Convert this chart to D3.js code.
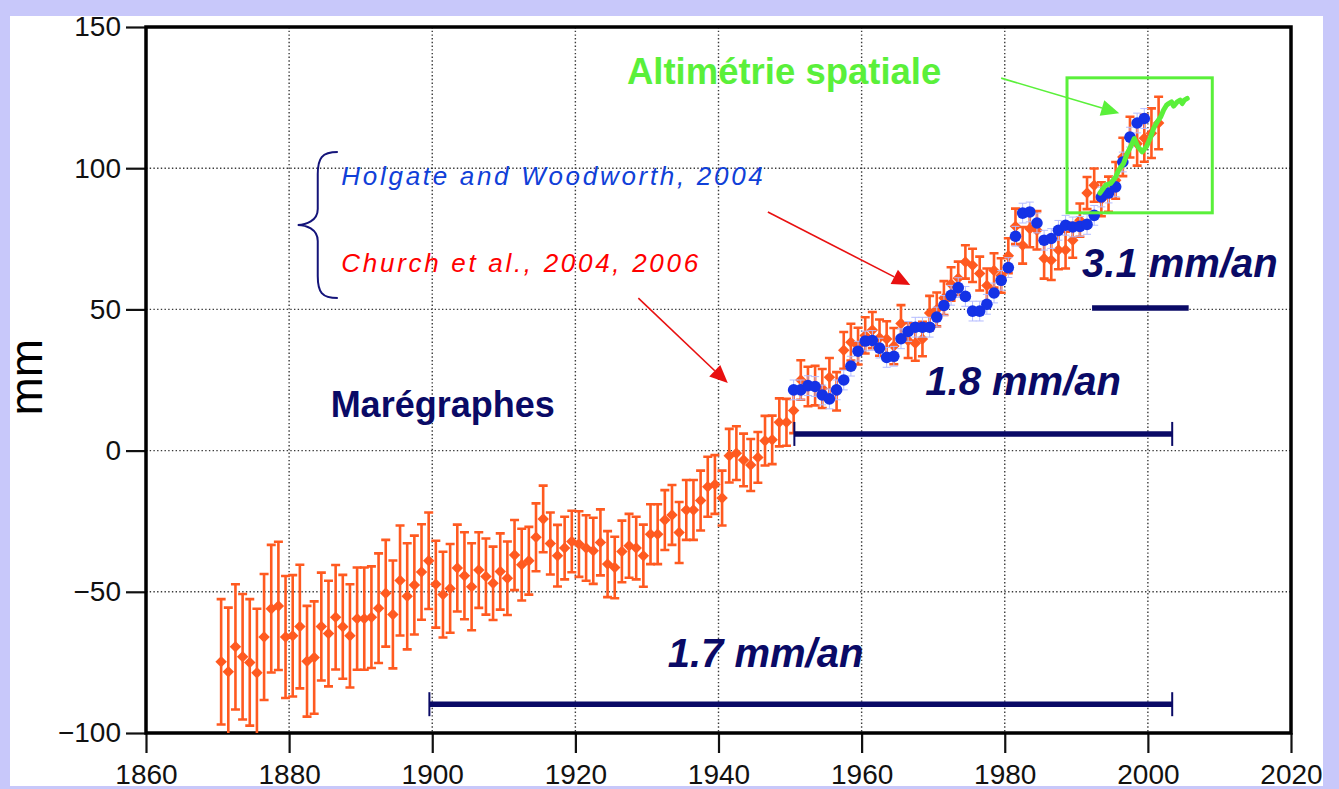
<!DOCTYPE html>
<html>
<head>
<meta charset="utf-8">
<script src="https://cdn.jsdelivr.net/npm/d3@7"></script>
<style>
  body { margin: 0; background: #c8c8fa; }
  svg { display: block; font-family: "Liberation Sans", Arial, Helvetica, sans-serif; }
</style>
</head>
<body>
<svg id="chart" width="1339" height="789"></svg>
<script>
// data --------------------------------------------------------------------------------------------
// Church et al. (tide gauges), annual means, mm
const churchYears = d3.range(1870, 2002).map(y => y + 0.5);
const churchValues = [
  -74.8, -78.3, -69.5, -73, -75, -78.7, -66, -56, -55, -66,
  -65.6, -62.3, -74.6, -73.3, -62.3, -64.8, -59, -62.4, -65.6, -59.5,
  -59.5, -59, -55.8, -50.5, -58, -46, -51.6, -47.6, -43, -39,
  -47.3, -51, -48.8, -41.6, -44.3, -48.2, -42.3, -44.6, -47, -42.8,
  -45.2, -37, -40.4, -39, -30.7, -24.2, -32.9, -37.2, -34.5, -32.2,
  -33.1, -34.5, -35.5, -32.5, -40.2, -41.4, -35.7, -33.7, -34.5, -37.2,
  -29.6, -29.6, -24.6, -22.8, -29, -21, -21, -17.7, -12.8, -12,
  -16.8, -1.8, -0.9, -3.3, -5.1, -2.4, 3.5, 3.8, 10, 10,
  14.2, 25, 22.7, 23, 22, 26, 21, 35.5, 38.4, 37,
  40.8, 42.7, 40, 39.5, 37, 45, 39, 38, 39.5, 48.7,
  50, 54, 59, 61, 66.8, 65.6, 62.7, 58.5, 63.8, 62,
  69, 79.4, 72.7, 78.6, 78, 68, 67.4, 71, 71, 74.5,
  81.6, 91.2, 94, 89, 90.8, 95.7, 104, 111, 108.7, 110.6,
  112.4, 116
];
const churchErrors = [
  22.2, 22.7, 22.2, 22.2, 22.4, 22.7, 22.3, 22.6, 22.7, 21.6,
  21.5, 21.9, 19.6, 19.9, 19.1, 18.7, 18.5, 18.4, 18.3, 18.1,
  18.1, 18, 19.4, 18.9, 19.1, 19.5, 18.8, 17.5, 16.9, 17.1,
  15.4, 15.2, 15.7, 15.4, 15.4, 15.4, 13.4, 13.5, 13, 13.5,
  13, 12.4, 12.7, 12, 12, 11.8, 11, 10.9, 11.1, 10.9,
  11.6, 11.6, 11.7, 11.7, 11.7, 10.9, 10.9, 11.3, 11.1, 11,
  10.6, 10.6, 10.6, 10.6, 10.8, 10.6, 10.6, 10.6, 10.6, 10.4,
  9.7, 9.5, 9.5, 9.3, 9.2, 9, 8.8, 8.6, 8.5, 8.3,
  8, 7, 7, 7, 6.9, 6.8, 6.8, 6.5, 6.5, 6.5,
  6.4, 6.4, 6.4, 6.3, 6.4, 6.5, 6.2, 6.2, 6.1, 6.1,
  6, 6, 5.9, 5.9, 5.9, 5.9, 6, 6, 6.1, 6.1,
  6.2, 6.3, 6.5, 6.6, 6.8, 7.1, 7, 6.8, 6.5, 6.2,
  5.9, 5.7, 5.9, 6, 6.2, 6.5, 6.8, 7.2, 7.8, 8.3,
  8.8, 9.3
];

// Holgate and Woodworth (2004)
const holgateYears = d3.range(1950, 2000).map(y => y + 0.5);
const holgateValues = [
  21.5, 21.5, 23, 22.7, 19.7, 18.3, 21.5, 25, 29.9, 35.2,
  38.8, 39, 36.3, 33, 33.4, 39.6, 42.2, 43.7, 43.7, 43.7,
  47.3, 51.4, 55, 57.7, 54.6, 49.4, 49.4, 51.8, 55.8, 60.3,
  64.8, 75.9, 84.1, 84.5, 80.6, 74.5, 75.1, 78, 79.8, 79.2,
  79.4, 80.1, 83.3, 89.8, 91.2, 93.4, 102.2, 111, 116, 117.6
];
const holgateError = 3.5;

// satellite altimetry
const altiTimes = [
  1993.3, 1994.1, 1994.8, 1995.5, 1995.9, 1996.6, 1997.1, 1997.7, 1998.1, 1998.6,
  1999.2, 1999.8, 2000.4, 2000.8, 2001.3, 2001.8, 2002.2, 2002.6, 2002.9, 2003.3,
  2003.6, 2004.1, 2004.5, 2004.8, 2005.1, 2005.5
];
const altiValues = [
  91.2, 94.0, 94.6, 96.9, 99.3, 101.7, 105.2, 108.2, 110.5, 107.6,
  105.8, 107.6, 111.1, 114.1, 116.4, 118.2, 120.6, 122.3, 122.9, 123.5,
  122, 123.5, 124.1, 122.9, 124.1, 124.7
];

// trend segments
const trendLabels = ['1.7 mm/an', '1.8 mm/an', '3.1 mm/an'];
const trendStart = [1899.6, 1950.6, 1992.2];
const trendEnd = [2003.4, 2003.4, 2005.7];
const trendLevel = [-89.8, 5.9, 50.5];
const trendTextAt = [[1932.9, -76.6], [1968.9, 19.7], [1990.8, 61.6]];

const xTicks = [1860, 1880, 1900, 1920, 1940, 1960, 1980, 2000, 2020];
const yTicks = [-100, -50, 0, 50, 100, 150];

// chart -------------------------------------------------------------------------------------------
const svg = d3.select('#chart');
const margin = {top: 27, right: 48, bottom: 56, left: 146};
const width = 1339, height = 789;

svg.append('rect')
  .attr('x', 10).attr('y', 16)
  .attr('width', 1313).attr('height', 770)
  .attr('fill', '#fff');

const x = d3.scaleLinear().domain([1860, 2020]).range([margin.left, width - margin.right]);
const y = d3.scaleLinear().domain([-100, 150]).range([height - margin.bottom, margin.top]);

const ORANGE = '#ff5a20', BLUE = '#1432e6', GREEN = '#5af03a', NAVY = '#0a0a66';

svg.append('clipPath').attr('id', 'plot-clip')
  .append('rect')
  .attr('x', x(1860)).attr('y', y(150))
  .attr('width', x(2020) - x(1860)).attr('height', y(-100) - y(150));

// dotted grid
const grid = svg.append('g')
  .attr('stroke', '#3a3a3a')
  .attr('stroke-width', 1.4)
  .attr('stroke-dasharray', '1.4,2.3');
grid.selectAll('.gx')
  .data(xTicks.slice(1, -1))
  .join('line')
  .attr('x1', d => x(d)).attr('x2', d => x(d))
  .attr('y1', y(150)).attr('y2', y(-100));
grid.selectAll('.gy')
  .data(yTicks.slice(1, -1))
  .join('line')
  .attr('x1', x(1860)).attr('x2', x(2020))
  .attr('y1', d => y(d)).attr('y2', d => y(d));

// axes
const xAxis = svg.append('g')
  .attr('transform', `translate(0,${y(-100)})`)
  .call(d3.axisBottom(x).tickValues(xTicks).tickSize(20).tickPadding(11).tickFormat(d3.format('d')));
const yAxis = svg.append('g')
  .attr('transform', `translate(${x(1860)},0)`)
  .call(d3.axisLeft(y).tickValues(yTicks).tickSize(20).tickPadding(5)
    .tickFormat(d => d < 0 ? '\u2212' + Math.abs(d) : d));
[xAxis, yAxis].forEach(a => {
  a.select('.domain').remove();
  a.selectAll('line').attr('stroke', '#111').attr('stroke-width', 2.2);
  a.selectAll('text')
    .attr('fill', '#111')
    .style('font-size', '28px')
    .style('font-family', '"Liberation Sans", Arial, sans-serif');
});

// y label (kept inside the page edge)
svg.append('text')
  .attr('transform', `translate(42,${y(26)}) rotate(-90)`)
  .attr('text-anchor', 'middle')
  .style('font-size', '46px')
  .attr('fill', '#000')
  .text('mm');

// frame
svg.append('rect')
  .attr('x', x(1860)).attr('y', y(150))
  .attr('width', x(2020) - x(1860)).attr('height', y(-100) - y(150))
  .attr('fill', 'none')
  .attr('stroke', '#000')
  .attr('stroke-width', 3.5);

const plot = svg.append('g').attr('clip-path', 'url(#plot-clip)');

// Church et al. error bars + diamonds
const church = churchYears.map((t, i) => ({t, v: churchValues[i], e: churchErrors[i]}));
plot.append('g').attr('stroke', ORANGE).attr('stroke-width', 2.6)
  .selectAll('path')
  .data(church)
  .join('path')
  .attr('d', d => {
    const cx = x(d.t), y0 = y(d.v - d.e), y1 = y(d.v + d.e);
    return `M${cx},${y0}V${y1}M${cx - 4.5},${y0}H${cx + 4.5}M${cx - 4.5},${y1}H${cx + 4.5}`;
  });
const diamond = d3.symbol(d3.symbolSquare, 66);
plot.append('g').selectAll('path')
  .data(church)
  .join('path')
  .attr('d', diamond)
  .attr('transform', d => `translate(${x(d.t)},${y(d.v)}) rotate(45)`)
  .attr('fill', ORANGE);

// Holgate and Woodworth
const holgate = holgateYears.map((t, i) => ({t, v: holgateValues[i]}));
plot.append('g').attr('stroke', '#b4bcff').attr('stroke-width', 1)
  .selectAll('path')
  .data(holgate)
  .join('path')
  .attr('d', d => {
    const cx = x(d.t), y0 = y(d.v - holgateError), y1 = y(d.v + holgateError);
    return `M${cx},${y0}V${y1}M${cx - 4},${y0}H${cx + 4}M${cx - 4},${y1}H${cx + 4}`;
  });
plot.append('g').selectAll('circle')
  .data(holgate)
  .join('circle')
  .attr('cx', d => x(d.t))
  .attr('cy', d => y(d.v))
  .attr('r', 5.8)
  .attr('fill', BLUE);

// satellite altimetry
const alti = altiTimes.map((t, i) => ({t, v: altiValues[i]}));
plot.append('path')
  .datum(alti)
  .attr('fill', 'none')
  .attr('stroke', GREEN)
  .attr('stroke-width', 5)
  .attr('stroke-linejoin', 'round')
  .attr('stroke-linecap', 'round')
  .attr('d', d3.line().x(d => x(d.t)).y(d => y(d.v)));

// green box
svg.append('rect')
  .attr('x', x(1988.7)).attr('y', y(132))
  .attr('width', x(2009) - x(1988.7)).attr('height', y(84.2) - y(132))
  .attr('fill', 'none')
  .attr('stroke', GREEN)
  .attr('stroke-width', 3);

// trend segments
trendLabels.forEach((label, i) => {
  const g = svg.append('g').attr('stroke', NAVY);
  const ly = y(trendLevel[i]);
  g.append('line')
    .attr('x1', x(trendStart[i])).attr('x2', x(trendEnd[i]))
    .attr('y1', ly).attr('y2', ly)
    .attr('stroke-width', 5.5);
  if (i < 2) {
    [trendStart[i], trendEnd[i]].forEach(t => {
      g.append('line')
        .attr('x1', x(t)).attr('x2', x(t))
        .attr('y1', ly - 12).attr('y2', ly + 12)
        .attr('stroke-width', 2);
    });
  }
  svg.append('text')
    .attr('x', x(trendTextAt[i][0]))
    .attr('y', y(trendTextAt[i][1]))
    .attr('fill', NAVY)
    .style('font-size', '40px')
    .style('font-weight', 'bold')
    .style('font-style', 'italic')
    .text(label);
});

// labels
svg.append('text')
  .attr('x', x(1885.8)).attr('y', y(11.9))
  .attr('fill', NAVY)
  .style('font-size', '36px')
  .style('font-weight', 'bold')
  .text('Marégraphes');

svg.append('text')
  .attr('x', x(1927.2)).attr('y', y(129.8))
  .attr('fill', GREEN)
  .style('font-size', '36.5px')
  .style('font-weight', 'bold')
  .text('Altimétrie spatiale');

svg.append('text')
  .attr('x', x(1887.3)).attr('y', y(94.1))
  .attr('fill', '#1040d8')
  .style('font-size', '26px')
  .style('font-style', 'italic')
  .style('letter-spacing', '2.7px')
  .text('Holgate and Woodworth, 2004');

svg.append('text')
  .attr('x', x(1887.3)).attr('y', y(63.3))
  .attr('fill', '#ff0000')
  .style('font-size', '26px')
  .style('font-style', 'italic')
  .style('letter-spacing', '2.7px')
  .text('Church et al., 2004, 2006');

// brace
const bx0 = x(1886.8), bxs = x(1884.0), bxt = x(1881.2);
const byt = y(105.7), bym = y(79.9), byb = y(54.0);
svg.append('path')
  .attr('d', `M${bx0},${byt} C${bxs + 4},${byt} ${bxs},${byt + 6} ${bxs},${byt + 22}
    L${bxs},${bym - 16} C${bxs},${bym - 4} ${bxt + 8},${bym} ${bxt},${bym}
    C${bxt + 8},${bym} ${bxs},${bym + 4} ${bxs},${bym + 16}
    L${bxs},${byb - 22} C${bxs},${byb - 6} ${bxs + 4},${byb} ${bx0},${byb}`)
  .attr('fill', 'none')
  .attr('stroke', '#14147a')
  .attr('stroke-width', 2);

// arrows: [from year, from value, to year, to value, colour]
const arrows = [
  [1946.9, 84.5, 1966.8, 58.6, '#e81010'],
  [1928.8, 54.0, 1941.3, 23.9, '#e81010'],
  [1979.5, 131.9, 1996.0, 119.5, GREEN]
];
arrows.forEach(([t0, v0, t1, v1, col]) => {
  const x0 = x(t0), y0 = y(v0), x1 = x(t1), y1 = y(v1);
  const ang = Math.atan2(y1 - y0, x1 - x0);
  const len = 18, half = 8;
  const bxA = x1 - len * Math.cos(ang), byA = y1 - len * Math.sin(ang);
  svg.append('line')
    .attr('x1', x0).attr('y1', y0).attr('x2', bxA).attr('y2', byA)
    .attr('stroke', col).attr('stroke-width', 1.6);
  svg.append('path')
    .attr('d', `M${x1},${y1}L${bxA - half * Math.sin(ang)},${byA + half * Math.cos(ang)}L${bxA + half * Math.sin(ang)},${byA - half * Math.cos(ang)}Z`)
    .attr('fill', col);
});
</script>
</body>
</html>
